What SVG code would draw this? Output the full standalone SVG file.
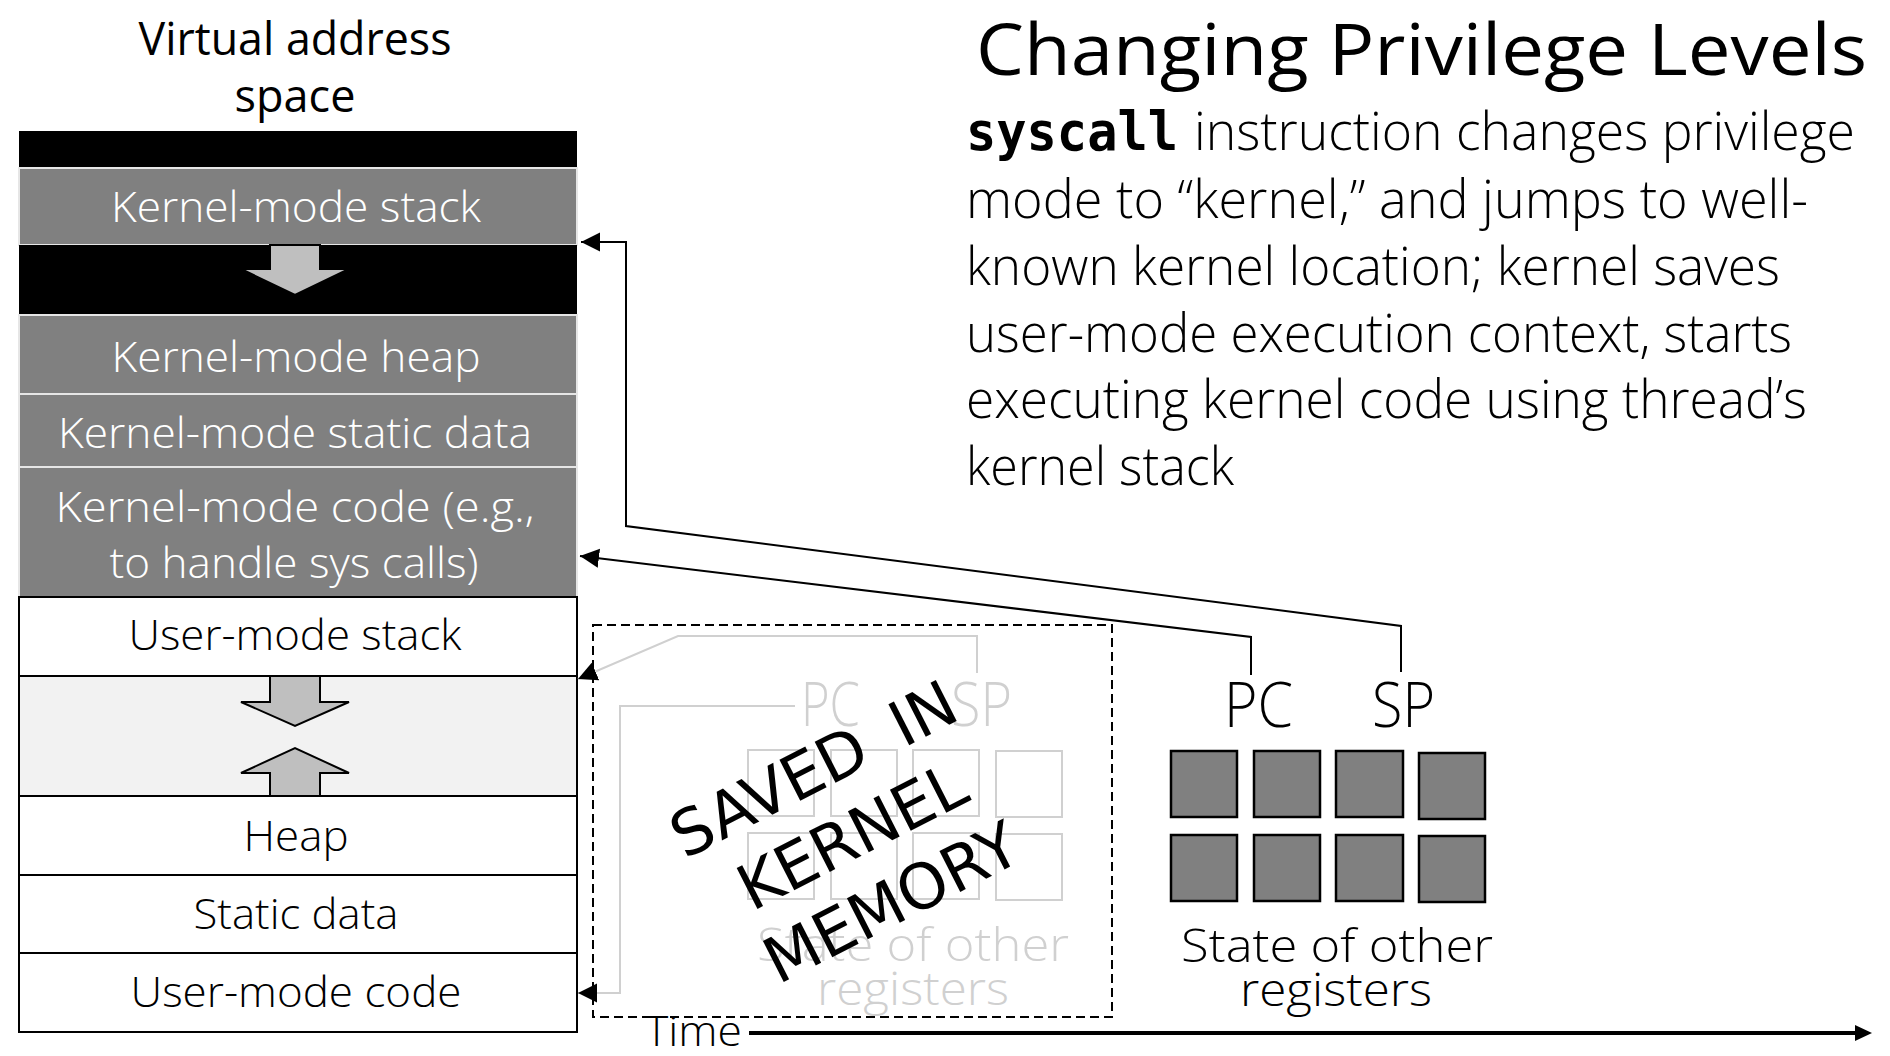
<svg xmlns="http://www.w3.org/2000/svg" width="1890" height="1056" viewBox="0 0 1890 1056">
<style>
.t{font-family:"Open Sans","Noto Sans","Liberation Sans",sans-serif}
.lt{font-weight:300}
.kb{fill:#808080;stroke:#E6E6E6;stroke-width:2}
.ub{fill:#fff;stroke:#000;stroke-width:2}
.kt{fill:#fff;font-size:42px;text-anchor:middle}
.ut{fill:#000;font-size:42px;text-anchor:middle}
.grow{fill:#BFBFBF;stroke:#000;stroke-width:2}
.reg{fill:#808080;stroke:#000;stroke-width:2.5}
.freg{fill:none;stroke:#D0D0D0;stroke-width:2}
.conn{fill:none;stroke:#000;stroke-width:2}
.fconn{fill:none;stroke:#D0D0D0;stroke-width:2}
.body{font-size:53px;fill:#000}
.mono{font-family:"DejaVu Sans Mono","Liberation Mono",monospace;font-weight:bold;font-size:53px}
.stamp{font-family:"DejaVu Sans","Verdana",sans-serif;font-size:63px;fill:#000;text-anchor:middle}
</style>
<defs>
<marker id="ah" markerUnits="userSpaceOnUse" markerWidth="20" markerHeight="20" viewBox="0 0 20 20" refX="19" refY="10" orient="auto"><path d="M0,0.5 L19,10 L0,19.5 z" fill="#000"/></marker>
</defs>
<rect width="1890" height="1056" fill="#fff"/>

<g id="vas-title" class="t">
<text x="295" y="55" font-size="45" text-anchor="middle" textLength="313" lengthAdjust="spacingAndGlyphs">Virtual address</text>
<text x="295" y="112" font-size="45" text-anchor="middle">space</text>
</g>

<g id="top-band"><rect x="19" y="131" width="558" height="37" fill="#000"/></g>
<g id="kernel-stack"><rect class="kb" x="19" y="168" width="558" height="77"/><text class="t lt kt" x="296" y="222" textLength="370" lengthAdjust="spacingAndGlyphs">Kernel-mode stack</text></g>
<g id="kernel-gap"><rect x="19" y="245" width="558" height="70" fill="#000"/><path class="grow" stroke="none" d="M270,245 H320 V269 H349 L295,295 L241,269 H270 Z"/></g>
<g id="kernel-heap"><rect class="kb" x="19" y="315" width="558" height="79"/><text class="t lt kt" x="296" y="372" textLength="369" lengthAdjust="spacingAndGlyphs">Kernel-mode heap</text></g>
<g id="kernel-static"><rect class="kb" x="19" y="394" width="558" height="73"/><text class="t lt kt" x="295" y="448" textLength="474" lengthAdjust="spacingAndGlyphs">Kernel-mode static data</text></g>
<g id="kernel-code"><rect class="kb" x="19" y="467" width="558" height="130"/><text class="t lt kt" x="295" y="522" textLength="479" lengthAdjust="spacingAndGlyphs">Kernel-mode code (e.g.,</text><text class="t lt kt" x="294" y="578" textLength="369" lengthAdjust="spacingAndGlyphs">to handle sys calls)</text></g>
<g id="user-stack"><rect class="ub" x="19" y="597" width="558" height="79"/><text class="t lt ut" x="295" y="650" textLength="333" lengthAdjust="spacingAndGlyphs">User-mode stack</text></g>
<g id="user-gap"><rect x="19" y="676" width="558" height="120" fill="#F2F2F2" stroke="#000" stroke-width="2"/><path class="grow" d="M270,676 H320 V702 H349 L295,726 L241,702 H270 Z"/><path class="grow" d="M270,796 H320 V773 H349 L295,748 L241,773 H270 Z"/></g>
<g id="user-heap"><rect class="ub" x="19" y="796" width="558" height="79"/><text class="t lt ut" x="296" y="851" textLength="105" lengthAdjust="spacingAndGlyphs">Heap</text></g>
<g id="user-static"><rect class="ub" x="19" y="875" width="558" height="78"/><text class="t lt ut" x="296" y="929" textLength="205" lengthAdjust="spacingAndGlyphs">Static data</text></g>
<g id="user-code"><rect class="ub" x="19" y="953" width="558" height="79"/><text class="t lt ut" x="296" y="1007" textLength="331" lengthAdjust="spacingAndGlyphs">User-mode code</text></g>

<g id="title" class="t"><text x="976" y="75" font-size="72" textLength="891" lengthAdjust="spacingAndGlyphs">Changing Privilege Levels</text></g>
<g id="description" class="t lt body">
<text x="966" y="150"><tspan class="mono" textLength="212" lengthAdjust="spacingAndGlyphs">syscall</tspan></text>
<text x="1194" y="150" textLength="661" lengthAdjust="spacingAndGlyphs">instruction changes privilege</text>
<text x="966" y="218" textLength="842" lengthAdjust="spacingAndGlyphs">mode to “kernel,” and jumps to well-</text>
<text x="966" y="285" textLength="814" lengthAdjust="spacingAndGlyphs">known kernel location; kernel saves</text>
<text x="966" y="352" textLength="826" lengthAdjust="spacingAndGlyphs">user-mode execution context, starts</text>
<text x="966" y="418" textLength="841" lengthAdjust="spacingAndGlyphs">executing kernel code using thread’s</text>
<text x="966" y="485" textLength="268" lengthAdjust="spacingAndGlyphs">kernel stack</text>
</g>

<g id="saved-registers">
<rect x="593" y="625" width="519" height="392" fill="none" stroke="#000" stroke-width="2" stroke-dasharray="9 5"/>
<g class="t lt" fill="#D0D0D0" font-size="60">
<text x="801" y="726" textLength="59" lengthAdjust="spacingAndGlyphs">PC</text>
<text x="951" y="726" textLength="61" lengthAdjust="spacingAndGlyphs">SP</text>
</g>
<rect class="freg" x="748" y="750" width="66" height="66"/>
<rect class="freg" x="831" y="750" width="66" height="66"/>
<rect class="freg" x="913" y="750" width="66" height="66"/>
<rect class="freg" x="996" y="751" width="66" height="66"/>
<rect class="freg" x="748" y="833" width="66" height="66"/>
<rect class="freg" x="831" y="833" width="66" height="66"/>
<rect class="freg" x="913" y="833" width="66" height="66"/>
<rect class="freg" x="996" y="834" width="66" height="66"/>
<g class="t lt" fill="#D0D0D0" font-size="46" text-anchor="middle">
<text x="913" y="961" textLength="312" lengthAdjust="spacingAndGlyphs">State of other</text>
<text x="913" y="1005" textLength="192" lengthAdjust="spacingAndGlyphs">registers</text>
</g>
</g>

<g id="saved-stamp" transform="translate(852,836) rotate(-27)">
<text class="stamp" x="-4" y="-55" word-spacing="14">SAVED IN</text>
<text class="stamp" x="0" y="22">KERNEL</text>
<text class="stamp" x="5" y="99">MEMORY</text>
</g>

<g id="cpu-registers">
<g class="t lt" fill="#000" font-size="62">
<text x="1224" y="727" textLength="69" lengthAdjust="spacingAndGlyphs">PC</text>
<text x="1372" y="727" textLength="63" lengthAdjust="spacingAndGlyphs">SP</text>
</g>
<rect class="reg" x="1171" y="751" width="66" height="66"/>
<rect class="reg" x="1254" y="751" width="66" height="66"/>
<rect class="reg" x="1336" y="751" width="67" height="66"/>
<rect class="reg" x="1419" y="753" width="66" height="66"/>
<rect class="reg" x="1171" y="835" width="66" height="66"/>
<rect class="reg" x="1254" y="835" width="66" height="66"/>
<rect class="reg" x="1336" y="835" width="67" height="66"/>
<rect class="reg" x="1419" y="836" width="66" height="66"/>
<g class="t lt" fill="#000" font-size="46" text-anchor="middle">
<text x="1337" y="962" textLength="312" lengthAdjust="spacingAndGlyphs">State of other</text>
<text x="1336" y="1006" textLength="192" lengthAdjust="spacingAndGlyphs">registers</text>
</g>
</g>

<g id="time-axis">
<text class="t lt" x="645" y="1046" font-size="42" textLength="97" lengthAdjust="spacingAndGlyphs">Time</text>
<line x1="749" y1="1033" x2="1858" y2="1033" stroke="#000" stroke-width="4"/>
<path d="M1855,1025 L1872,1033 L1855,1041 Z" fill="#000"/>
</g>

<g id="connectors">
<polyline class="conn" points="1401,672 1401,626 626,526 626,242 581,242" marker-end="url(#ah)"/>
<polyline class="conn" points="1251,675 1251,637 580,556" marker-end="url(#ah)"/>
<polyline class="fconn" points="977,673 977,636 678,636 578,679" marker-end="url(#ah)"/>
<polyline class="fconn" points="795,706 620,706 620,993 578,993" marker-end="url(#ah)"/>
</g>
</svg>
